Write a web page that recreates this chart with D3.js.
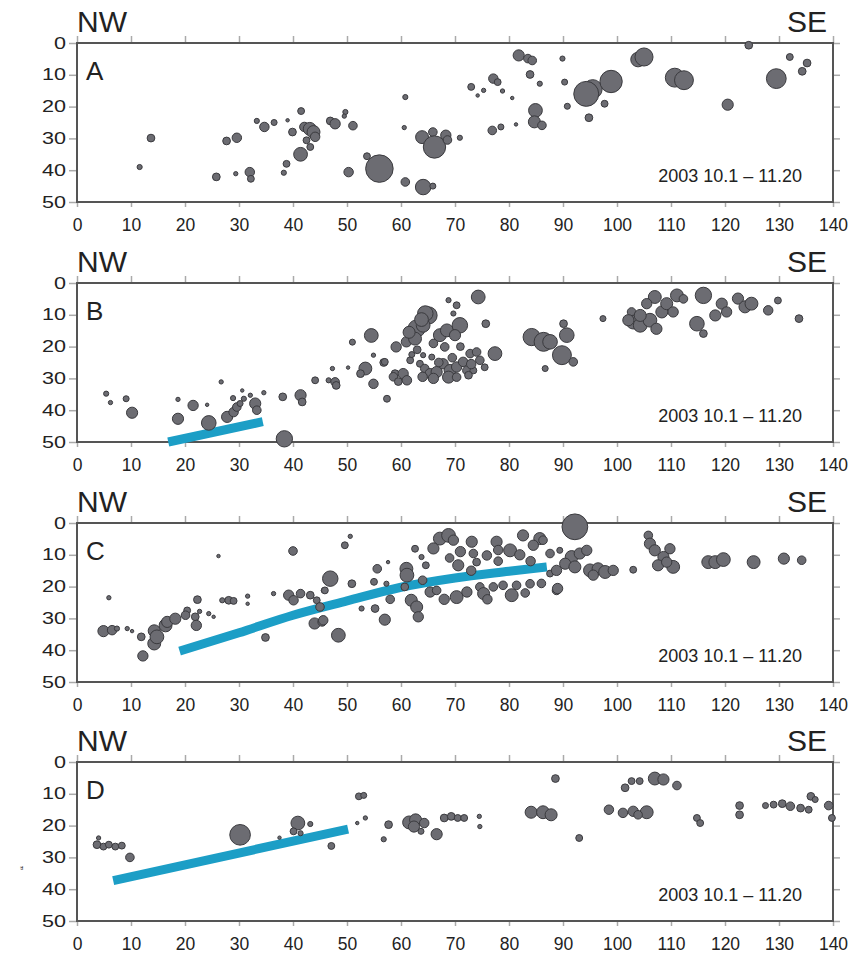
<!DOCTYPE html>
<html>
<head>
<meta charset="utf-8">
<script src="https://cdn.jsdelivr.net/npm/d3@7"></script>
<style>
  body { margin: 0; background: #fff; }
  text { font-family: "Liberation Sans", Arial, sans-serif; fill: #222; }
</style>
</head>
<body>
<svg width="856" height="955"></svg>
<script>
// panel names and shared labels
const panelNames = ["A", "B", "C", "D"];
const dateLabel = "2003 10.1 \u2013 11.20";
const xTicks = [0, 10, 20, 30, 40, 50, 60, 70, 80, 90, 100, 110, 120, 130, 140];
const yTicks = [0, 10, 20, 30, 40, 50];

// hypocenters: [distance km, depth km, magnitude]
const quakesA = [
  [13.7,29.9,0.9],[11.6,39,0.6],[25.8,42.1,0.9],[27.7,30.8,0.9],[29.6,29.8,1.1],[29.4,41.1,0.5],
  [32,40.6,1.1],[32.2,42.7,0.8],[33.3,24.5,0.6],[34.7,26.4,1.1],[36.5,25,0.7],[39,24.3,0.4],
  [39.9,28,0.9],[41.5,21.4,0.8],[42.1,26.4,1.1],[43.1,27,1.5],[43.8,28,1.5],[42.5,30.6,0.8],
  [44.1,29.5,1.1],[43.2,32.7,0.8],[41.4,35,1.6],[38.8,38,0.8],[38.3,40.8,0.6],[46.9,24.5,0.9],
  [47.8,25.4,1.2],[49.7,21.7,0.6],[49.5,23,0.5],[51.1,26,1.0],[50.3,40.6,1.1],[53.7,35.6,0.8],
  [56,39.5,3.2],[60.8,17,0.6],[60.6,26.6,0.5],[60.8,43.7,1.0],[64.1,45.3,1.8],[63.9,29.6,1.5],
  [65.9,28,1.0],[66.2,32.7,2.6],[68.3,29,1.2],[68.6,30.5,1.0],[70.9,29.8,0.6],[65.9,45,0.7],
  [73,13.8,0.8],[74.2,16.5,0.4],[75.3,14.9,0.5],[77.1,11.2,1.1],[77.9,12.3,0.8],[78.8,15.1,0.5],
  [80.6,17.3,0.4],[76.9,27.5,1.0],[78.5,26.4,0.7],[81.3,25.6,0.4],[81.8,3.9,1.3],[83.5,4.9,1.0],
  [84.3,5.5,1.0],[83.9,9.9,0.9],[85.7,12.8,0.6],[84.9,21.2,1.6],[84.7,24.8,1.4],[86.1,25.9,1.0],
  [89.9,4.9,0.6],[90.3,12.3,0.7],[90.8,19.9,0.7],[95.5,14.5,2.2],[94.3,16,2.9],[94.8,23.5,0.9],
  [97.7,19.1,0.8],[98.9,12.1,2.6],[103.9,5.2,1.7],[105,4.4,2.1],[110.7,10.9,2.2],[112.4,11.7,2.2],
  [120.5,19.4,1.3],[124.4,0.7,0.9],[129.5,11.2,2.3],[132,4.4,0.8],[134.3,8.9,0.9],[135.2,6.3,0.9]
];

const quakesB = [
  [5.4,34.8,0.6],[6.2,37.6,0.5],[9.1,36.4,0.7],[10.2,40.8,1.3],[18.7,36.6,0.5],[18.7,42.7,1.3],
  [21.5,38.5,1.2],[24.1,38.3,0.4],[24.4,44,1.7],[26.7,31.1,0.5],[27.8,42.1,1.3],[29,40.6,1.1],
  [29.6,39,1.0],[28.9,36.2,0.6],[30.6,33.8,0.4],[30.9,36.4,0.6],[32.1,35.3,0.5],[30.2,37.9,0.7],
  [33,37.9,1.3],[33.3,40,1.0],[34.6,34.5,0.5],[38.1,35.8,0.9],[38.4,49,1.9],[41.4,35.3,1.3],
  [41.7,37.4,0.9],[44.1,30.6,0.8],[46.6,30.6,0.6],[47.3,26.9,0.5],[47.8,31.1,1.0],[48,32.2,0.9],
  [50.2,26.6,0.4],[51,18.6,0.7],[54.5,16.5,1.6],[54.9,22.7,0.5],[53.4,26.9,1.5],[52.5,28.5,0.9],
  [54.9,31.7,1.1],[57.4,36.4,0.8],[56.8,25,0.9],[57,24.8,0.8],[58.9,28.5,0.9],[59.1,20.1,1.2],
  [61,18.5,1.2],[62.9,14.3,2.0],[65.1,10.2,2.0],[64.1,13.3,1.6],[62.6,17.5,1.5],[64.5,9.6,1.8],
  [58.6,29.5,1.0],[60.4,28.5,1.2],[61.1,30.6,1.1],[61.7,24.3,0.8],[63.5,25.4,0.8],[64.4,26.9,1.0],
  [65.4,28.5,1.2],[66.6,28,1.3],[65.7,23.3,0.7],[64.1,22.7,0.6],[67.2,16.4,1.5],[68.5,14.9,1.5],
  [70.9,13.3,1.8],[70,16.4,1.3],[68.1,20.1,1.0],[68.8,5.4,0.6],[70.3,7,0.8],[69.7,9.6,0.6],
  [74.3,4.4,1.6],[75.7,12.8,0.9],[67.8,25.4,1.2],[69.1,27.5,1.4],[68.8,29.6,1.4],[70.3,26.4,1.2],
  [71.5,24.8,1.1],[72.8,22.2,1.0],[74,21.7,1.0],[74.6,24.3,1.0],[72.2,27.5,1.0],[77.4,22.2,1.6],
  [73.4,27.5,0.8],[70.3,29.6,1.0],[84.2,17,2.0],[86.4,18.5,2.2],[87.6,18.5,1.7],[89.8,22.7,2.2],
  [90.7,16.4,1.7],[90.1,12.8,0.9],[91.9,24.8,1.0],[86.7,26.9,0.7],[97.4,11.2,0.7],
  [63,21,0.9],[66,19,1.0],[62,22.5,0.7],[67,25,1.0],[71,20,0.9],[73,25.5,1.1],[69.5,23.5,1.0],
  [66,30,1.2],[64,29.5,1.1],[59.5,31,0.9],[72.5,29,0.9],[75.5,26.5,0.8],[63.8,11.5,1.6],[61.5,15.5,1.4],
  [102.7,9.1,1.0],[103,12.3,1.6],[104.3,13.3,1.6],[106.1,11.7,1.6],[107,4.4,1.5],[107.3,14.4,1.3],
  [108.3,9.1,1.4],[109.2,6.5,1.4],[111.1,3.9,1.5],[110.4,9.1,1.2],[105.5,6.5,1.2],[112.3,5,1.0],
  [102.1,11.7,1.3],[104.3,10.2,1.4],[116,3.9,1.9],[114.8,12.8,1.7],[116,15.9,0.9],[118.2,10.2,1.3],
  [119.4,6.5,1.3],[120.3,9.1,1.2],[122.4,4.9,1.3],[123.7,7.5,1.4],[124.9,6.5,1.5],[128,8.6,1.1],
  [129.8,5.5,0.8],[133.7,11.2,0.9]
];

const quakesC = [
  [5.9,23.5,0.5],[4.9,34,1.3],[6.5,33.7,1.1],[7.4,33.2,0.6],[9.3,33.2,0.5],[10.2,34,0.4],
  [11.9,35.8,0.9],[12.2,41.8,1.2],[14.3,37.9,1.5],[14.3,33.9,1.4],[16.4,32.2,1.5],[14.8,35.8,1.6],
  [16.7,31.1,1.3],[18.2,30.1,1.3],[20.4,27.5,0.8],[20.1,29,1.0],[21.9,29.5,0.9],[22.1,32.2,1.2],
  [22.3,24.1,0.9],[22.7,27.8,0.5],[24.4,28.5,0.5],[25.3,29.5,0.4],[26.2,10.4,0.4],[26.9,24.3,0.6],
  [28.1,24.3,0.9],[29,24.5,0.8],[31.6,23,0.5],[31.6,25.4,0.4],[34.9,36,0.9],[36.4,22.2,0.5],
  [40,8.8,1.0],[39.2,22.7,1.2],[40.1,24.3,1.1],[41.4,22.2,1.0],[43.2,22.7,0.9],[44.4,24.3,0.8],
  [44,31.6,1.3],[45.4,31.1,1.0],[45.7,21.2,0.6],[45.9,21.2,0.8],[45,26.4,1.0],[45.6,30.6,1.1],
  [50.6,4.2,0.5],[49.6,7,0.8],[46.9,17.5,1.8],[50.9,19.1,0.9],[55.6,14.4,1.0],[57.6,12.3,0.4],
  [57.3,19.1,0.6],[62.6,8.1,0.8],[63.8,10.7,0.6],[64.6,13.3,0.8],[61,14.4,1.5],[61.1,16.4,1.6],
  [60.7,20.1,0.9],[61.9,24.3,1.4],[62.9,26.4,1.4],[63.2,29.5,1.2],[55.2,26.9,0.9],[57,30.4,1.3],
  [52.7,26.9,0.6],[48.4,35.3,1.6],[65.4,21.7,1.2],[66.6,21.2,1.0],[67.2,4.9,1.5],[68.8,3.9,1.6],
  [69.7,5.4,1.2],[70.6,13.3,1.3],[70.3,23.3,1.5],[72.2,21.7,1.2],[73.1,5.9,1.3],[73.4,9.6,1.0],
  [74,12.3,0.9],[74.6,20.1,1.0],[75.3,22.2,1.4],[75.9,10.2,1.1],[77.7,5.9,1.3],[77.1,20.1,1.0],
  [78.9,19.6,1.0],[80.2,8.6,1.5],[80.5,22.7,1.5],[81.4,19.6,1.0],[82.6,3.9,1.3],[83.9,19.1,1.0],
  [85.7,4.9,1.4],[84.5,7,1.2],[87.6,9.6,1.0],[88.8,21.2,1.0],[87.6,15.9,0.8],
  [66,8,1.3],[71,9,1.2],[78,8.5,1.1],[82,10,1.2],[84,12,1.1],[78,12,1.0],[69,11,1.0],[73,15,1.1],
  [64,18,1.0],[68,24,1.2],[76,24,1.1],[83,22,1.0],[86,19,1.0],[58,24,1.0],[55,18.5,0.8],
  [92.2,1.2,3.0],[89.4,8.6,0.7],[86.3,5.4,1.0],[91.6,10.7,1.5],[93.1,9.6,1.3],[94.4,8.6,1.2],
  [90.4,12.8,1.3],[88.8,14.9,1.2],[92.2,13.8,1.4],[95,14.9,1.5],[96.5,14.4,1.4],[97.8,15.4,1.5],
  [99.3,14.9,1.2],[95.6,16.4,1.2],[103,14.7,0.8],[89,20.6,1.2],[105.8,3.9,1.0],[106.1,6.5,1.3],
  [107,8.6,1.3],[109.8,8.1,1.2],[108.6,10.7,1.3],[107.6,13.3,1.3],[110.4,13.8,1.5],[109.2,12.3,1.2],
  [116.9,12.3,1.5],[118.2,12.3,1.5],[119.7,11.5,1.6],[125.3,12.3,1.5],[130.9,11.2,1.3],[134.2,11.7,1.0]
];

const quakesD = [
  [4,23.9,0.5],[3.7,26,0.9],[4.9,26.6,0.8],[5.9,26,0.8],[7.1,26.6,0.8],[8.3,26.3,0.8],
  [9.8,30,1.0],[30.2,22.9,2.4],[40.9,19.2,1.6],[43.2,19.5,0.6],[40.1,21.8,0.8],[41.4,22.4,0.6],
  [37.5,23.8,0.4],[47.1,26.4,0.8],[52.2,10.8,0.8],[53.1,10.5,0.7],[51.9,19.2,0.4],[53.4,17.6,0.5],
  [56.8,24.3,0.6],[57.7,19.7,0.9],[61.5,19,1.5],[62.7,18.2,1.4],[62.4,20.3,1.3],[64.3,19.2,1.1],
  [63.7,21.8,0.7],[66.6,22.7,1.3],[68,17.6,0.9],[69.3,17.1,0.9],[70.5,17.6,0.8],[71.7,17.6,0.8],
  [74.5,17.1,0.5],[74.6,20.3,0.5],[84.1,15.8,1.4],[86.3,15.8,1.5],[87.8,16.6,1.4],[88.6,5.2,0.9],
  [93,23.9,0.8],[98.5,15,1.1],[101.1,16,1.1],[103,15.5,1.2],[105.5,15.8,1.5],[103.9,16.6,1.0],
  [101.5,8.1,0.9],[102.7,6,0.8],[104.2,6,0.8],[107,5.2,1.5],[108.6,5.5,1.3],[111.1,7.4,1.0],
  [114.8,17.6,0.8],[115.4,19.2,0.8],[122.7,13.7,0.9],[122.7,16.6,0.9],[127.5,13.7,0.7],[129,13.4,0.8],
  [130.6,13.1,0.9],[132.1,13.9,1.0],[134,14.5,0.9],[135.9,10.8,0.9],[135.5,15,0.8],[136.7,11.8,0.7],
  [139.2,13.7,1.0],[139.8,17.6,0.8]
];

// interpreted slab top (blue bands)
const slabA = [];
const slabB = [[16.9,50],[34.4,43.6]];
const slabC = [[19,40.3],[30,34.5],[40,29],[50,24.5],[60,20.2],[70,17.3],[80,15.2],[87,13.8]];
const slabD = [[6.7,37.3],[50.2,21.1]];

const quakes = [quakesA, quakesB, quakesC, quakesD];
const slabs = [slabA, slabB, slabC, slabD];

const svg = d3.select("svg");
const left = 77, width = 756, height = 159;
const tops = [43, 283, 523, 762];

const x = d3.scaleLinear().domain([0, 140]).range([0, width]);
const y = d3.scaleLinear().domain([0, 50]).range([0, height]);
const r = d3.scaleLinear().domain([0, 1]).range([0, 4.3]);

panelNames.forEach((name, i) => {
  const g = svg.append("g").attr("transform", `translate(${left},${tops[i]})`);

  // ticks, light grey, outside on all four sides
  const tickStyle = sel => {
    sel.select(".domain").remove();
    sel.selectAll(".tick line").attr("stroke", "#aaa").attr("stroke-width", 1.5);
  };

  g.append("g")
    .call(d3.axisTop(x).tickValues(xTicks).tickSize(7).tickFormat(""))
    .call(tickStyle);
  g.append("g").attr("transform", `translate(${width},0)`)
    .call(d3.axisRight(y).tickValues(yTicks).tickSize(7).tickFormat(""))
    .call(tickStyle);

  const xa = g.append("g").attr("transform", `translate(0,${height})`)
    .call(d3.axisBottom(x).tickValues(xTicks).tickSize(5).tickPadding(12))
    .call(tickStyle);
  xa.selectAll("text").style("font-size", "17.5px").attr("fill", "#222");

  const ya = g.append("g")
    .call(d3.axisLeft(y).tickValues(yTicks).tickSize(8))
    .call(tickStyle);
  ya.selectAll("text")
    .style("font-size", "16px").attr("fill", "#222")
    .attr("x", 0)
    .attr("transform", "translate(-11,0) scale(1.35,1)");

  // frame
  g.append("rect")
    .attr("width", width).attr("height", height)
    .attr("fill", "none").attr("stroke", "#555").attr("stroke-width", 2);

  // slab line
  if (slabs[i].length) {
    const line = d3.line().x(d => x(d[0])).y(d => y(d[1])).curve(d3.curveMonotoneX);
    g.append("path")
      .datum(slabs[i])
      .attr("d", line)
      .attr("fill", "none")
      .attr("stroke", "#1c9ec6")
      .attr("stroke-width", 9);
  }

  // hypocenters
  g.selectAll("circle.eq")
    .data(quakes[i])
    .enter()
    .append("circle")
    .attr("class", "eq")
    .attr("cx", d => x(d[0]))
    .attr("cy", d => y(d[1]))
    .attr("r", d => r(d[2]))
    .attr("fill", "#6c6c72")
    .attr("stroke", "#3a3a3e")
    .attr("stroke-width", 1);

  // labels
  g.append("text").attr("x", 0).attr("y", -11)
    .style("font-size", "30px").text("NW");
  g.append("text").attr("x", width - 6).attr("y", -11)
    .attr("text-anchor", "end").style("font-size", "30px").text("SE");
  g.append("text").attr("x", 9).attr("y", 37)
    .style("font-size", "26px").text(name);
  g.append("text").attr("x", width - 31).attr("y", 139)
    .attr("text-anchor", "end").style("font-size", "18px").text(dateLabel);
});

// clipped fragment of a vertical label at the left margin
svg.append("text")
  .attr("transform", "translate(14,868) rotate(90)")
  .attr("text-anchor", "middle")
  .style("font-size", "12px")
  .text("\u201D");
</script>
</body>
</html>
